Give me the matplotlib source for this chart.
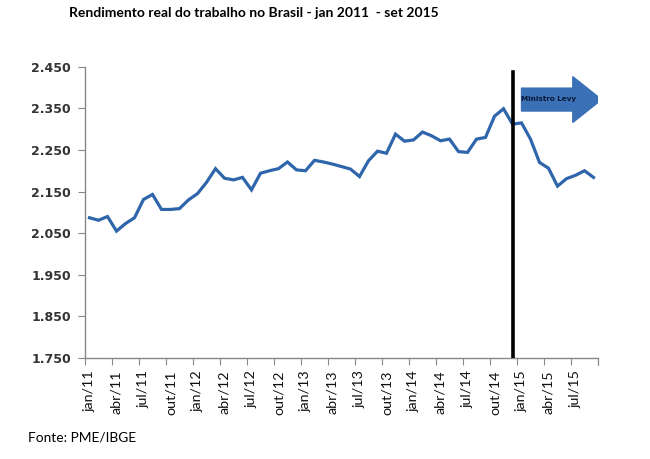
import matplotlib
matplotlib.use("Agg")
import matplotlib.pyplot as plt
import matplotlib.transforms as mtransforms
from matplotlib.patches import FancyArrow

# rendimento real mensal (R$), jan/2011 - set/2015
months = ['jan', 'fev', 'mar', 'abr', 'mai', 'jun', 'jul', 'ago', 'set', 'out', 'nov', 'dez']
years = [11, 12, 13, 14, 15]
rendimento = [2087, 2081, 2090, 2055, 2073, 2087, 2131, 2143, 2107, 2107,
              2109, 2130, 2145, 2172, 2205, 2182, 2178, 2184, 2154, 2194,
              2200, 2205, 2221, 2202, 2200, 2225, 2221, 2216, 2210, 2204,
              2186, 2224, 2247, 2242, 2288, 2271, 2274, 2293, 2284, 2272,
              2276, 2246, 2244, 2276, 2280, 2331, 2349, 2312, 2315, 2276,
              2220, 2206, 2163, 2181, 2189, 2200, 2184]
yticks = [1750, 1850, 1950, 2050, 2150, 2250, 2350, 2450]

labels = [f"{m}/{y}" for y in years for m in months][:len(rendimento)]
x = list(range(len(rendimento)))

fig = plt.figure(figsize=(6.5, 4.59), dpi=100)
ax = fig.add_axes([85 / 650, 1 - 358 / 459, 513 / 650, (358 - 66.7) / 459])

ax.plot(x, rendimento, color='#2F65AB', linewidth=2.3, solid_joinstyle='miter')

# Ministro Levy: linha vertical em dez/14 + seta
ax.plot([47.06, 47.06], [1750, 2438], color='black', linewidth=2.6, zorder=4)
arrow = FancyArrow(48.0, 2371, 5.7, 0, width=55, head_width=110, head_length=3.2,
                   length_includes_head=False, color='#3A70B5', zorder=3)
ax.add_patch(arrow)
ax.text(51.0, 2373, 'Ministro Levy', fontsize=5.2, color='#0A1838', fontweight='bold',
        ha='center', va='center', family='DejaVu Sans', zorder=5)

ax.set_xlim(-0.5, len(rendimento) - 0.5)
ax.set_ylim(1750, 2450)

ax.set_yticks(yticks)
ax.set_yticklabels([f"{v:,}".replace(',', '.') for v in yticks],
                   fontsize=9, fontweight='bold', color='#333333')

# ticks nos limites das categorias, rotulos a cada 3 meses
ax.set_xticks([i - 0.5 for i in range(0, len(rendimento) + 1, 3)] + [len(rendimento) - 0.5])
ax.set_xticklabels([])
ax.set_xticks(x[::3], minor=True)
ax.set_xticklabels(labels[::3], minor=True, rotation=90, fontsize=10.3,
                   family='Lato', color='#111111')
offset = mtransforms.ScaledTranslation(3 / 100, 0, fig.dpi_scale_trans)
for lbl in ax.xaxis.get_minorticklabels():
    lbl.set_transform(lbl.get_transform() + offset)
ax.tick_params(axis='x', which='minor', length=0, pad=9)
ax.tick_params(axis='x', which='major', length=5, color='#888888')
ax.tick_params(axis='y', length=5, color='#888888', pad=5)

for side in ['top', 'right']:
    ax.spines[side].set_visible(False)
for side in ['left', 'bottom']:
    ax.spines[side].set_color('#888888')
    ax.spines[side].set_linewidth(1.0)

fig.text(69 / 650, 1 - 13 / 459, 'Rendimento real do trabalho no Brasil - jan 2011  - set 2015',
         fontsize=10, fontweight='bold', family='Lato', ha='left', va='center')
fig.text(28 / 650, 1 - 437 / 459, 'Fonte: PME/IBGE', fontsize=9.9, family='Lato',
         ha='left', va='center')

fig.savefig('out.png', dpi=100)
